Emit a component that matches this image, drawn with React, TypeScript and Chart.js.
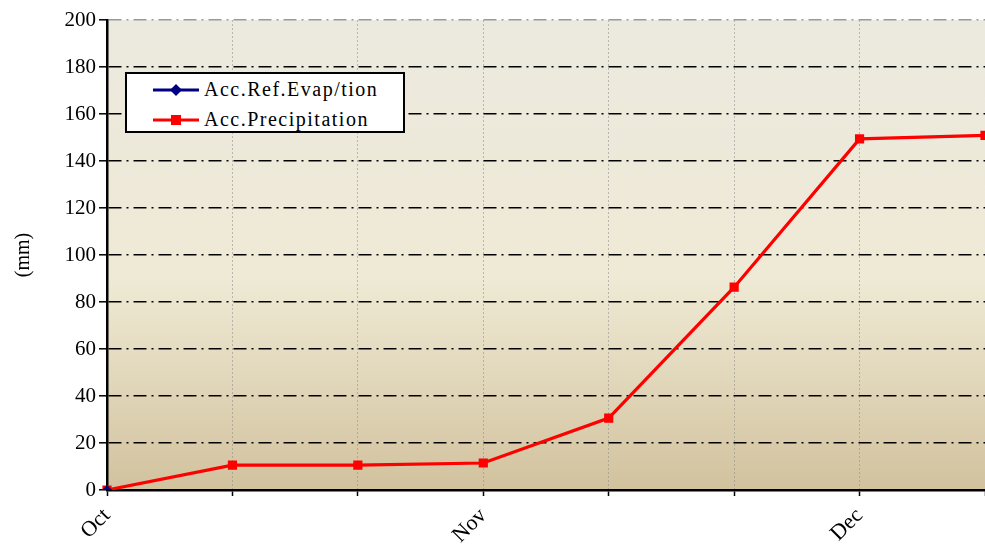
import React, { useEffect, useRef } from "react";
import { Chart, registerables } from "chart.js";

Chart.register(...registerables);

const categories = ["Oct", "", "", "Nov", "", "", "Dec", ""];
const evapValues: (number | null)[] = [0, null, null, null, null, null, null, null];
const precipValues = [0, 10.6, 10.6, 11.5, 30.6, 86.3, 149.4, 150.9];
const yTicks = [0, 20, 40, 60, 80, 100, 120, 140, 160, 180, 200];
const seriesNames = ["Acc.Ref.Evap/tion", "Acc.Precipitation"];

const FONT = "'Liberation Serif', 'Times New Roman', serif";

const bgPlugin = {
  id: "bgGradient",
  beforeDraw(chart: any) {
    const { ctx, chartArea } = chart;
    if (!chartArea) return;
    const g = ctx.createLinearGradient(0, chartArea.top, 0, chartArea.bottom);
    g.addColorStop(0, "#ECE9DF");
    g.addColorStop(0.55, "#EFEAD5");
    g.addColorStop(1, "#D2C29E");
    ctx.save();
    ctx.fillStyle = g;
    ctx.fillRect(chartArea.left, chartArea.top, chartArea.right - chartArea.left, chartArea.bottom - chartArea.top);
    ctx.restore();
  },
};

function LegendSample({ color, marker }: { color: string; marker: "diamond" | "square" }) {
  return (
    <svg width={48} height={14} style={{ display: "block" }}>
      <line x1={1} y1={7} x2={47} y2={7} stroke={color} strokeWidth={3} />
      {marker === "diamond" ? (
        <polygon points="24,1 30,7 24,13 18,7" fill={color} />
      ) : (
        <rect x={19} y={2} width={10} height={10} fill={color} />
      )}
    </svg>
  );
}

export default function App() {
  const canvasRef = useRef<HTMLCanvasElement | null>(null);

  useEffect(() => {
    document.body.style.margin = "0";
    const canvas = canvasRef.current;
    if (!canvas) return;
    const chart = new Chart(canvas, {
      type: "line",
      data: {
        labels: categories,
        datasets: [
          {
            label: seriesNames[0],
            data: evapValues,
            borderColor: "#000080",
            backgroundColor: "#000080",
            borderWidth: 3,
            pointStyle: "rectRot",
            pointRadius: 5,
            pointBorderWidth: 0,
            spanGaps: false,
          },
          {
            label: seriesNames[1],
            data: precipValues,
            borderColor: "#FF0000",
            backgroundColor: "#FF0000",
            borderWidth: 3.2,
            pointStyle: "rect",
            pointRadius: 6.5,
            pointBorderWidth: 0,
            tension: 0,
          },
        ],
      },
      options: {
        animation: false,
        responsive: false,
        maintainAspectRatio: false,
        layout: { autoPadding: false, padding: { top: 20, right: 0, left: 0, bottom: 0 } },
        plugins: { legend: { display: false }, tooltip: { enabled: false } },
        scales: {
          x: {
            offset: false,
            afterFit(scale: any) {
              scale.height = 55;
              scale.paddingRight = 0;
              scale.paddingLeft = 0;
            },
            border: { display: true, color: "#000", width: 2.5, dash: [2, 2] },
            grid: {
              display: true,
              drawOnChartArea: true,
              color: "rgba(140,140,140,0.55)",
              lineWidth: 1,
              tickLength: 6,
              tickColor: "#000",
              tickBorderDash: [],
              tickWidth: 1.5,
            } as any,
            ticks: {
              autoSkip: false,
              maxRotation: 45,
              minRotation: 45,
              padding: 7,
              color: "#000",
              font: { family: FONT, size: 22 },
            },
          },
          y: {
            min: 0,
            max: 200,
            afterFit(scale: any) {
              scale.width = 107;
            },
            afterBuildTicks(scale: any) {
              scale.ticks = yTicks.map((v) => ({ value: v }));
            },
            border: { display: true, color: "#000", width: 2.5, dash: [13, 5, 2, 5] },
            title: {
              display: true,
              text: "(mm)",
              color: "#000",
              font: { family: FONT, size: 20 },
              padding: { top: 12, bottom: 0 },
            },
            grid: {
              color: (ctx: any) => (ctx.tick && ctx.tick.value === 200 ? "#9a9a9a" : ctx.tick && ctx.tick.value === 0 ? "rgba(0,0,0,0)" : "#000"),
              lineWidth: 1.6,
              tickLength: 8,
              tickColor: "#000",
              tickBorderDash: [],
              tickWidth: 1.5,
            } as any,
            ticks: {
              stepSize: 20,
              padding: 3,
              color: "#000",
              font: { family: FONT, size: 21 },
            },
          },
        },
      },
      plugins: [bgPlugin],
    } as any);
    return () => chart.destroy();
  }, []);

  return (
    <div style={{ position: "relative", width: 985, height: 545, background: "#fff" }}>
      <canvas ref={canvasRef} width={985} height={545} style={{ display: "block", width: 985, height: 545 }} />
      <div
        style={{
          position: "absolute",
          left: 125,
          top: 72,
          width: 276,
          height: 57,
          border: "2px solid #000",
          background: "#fff",
          fontFamily: FONT,
          fontSize: 20,
          letterSpacing: "1.5px",
          color: "#000",
        }}
      >
        <div style={{ position: "absolute", left: 25, top: 9, display: "flex", alignItems: "center", height: 14 }}>
          <LegendSample color="#000080" marker="diamond" />
        </div>
        <div style={{ position: "absolute", left: 77, top: 2, lineHeight: "26px", whiteSpace: "nowrap" }}>{seriesNames[0]}</div>
        <div style={{ position: "absolute", left: 25, top: 39, display: "flex", alignItems: "center", height: 14 }}>
          <LegendSample color="#FF0000" marker="square" />
        </div>
        <div style={{ position: "absolute", left: 77, top: 32, lineHeight: "26px", whiteSpace: "nowrap" }}>{seriesNames[1]}</div>
      </div>
    </div>
  );
}
